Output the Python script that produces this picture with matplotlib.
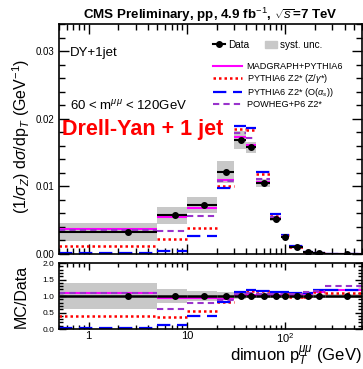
import numpy as np
import matplotlib.pyplot as plt
from matplotlib.ticker import MultipleLocator, FixedLocator, FuncFormatter, LogLocator, NullFormatter
from matplotlib.patches import Patch
from matplotlib.lines import Line2D

plt.rcParams['font.family'] = ['Liberation Sans', 'DejaVu Sans']
plt.rcParams['mathtext.fontset'] = 'custom'
plt.rcParams['mathtext.rm'] = 'Liberation Sans'
plt.rcParams['mathtext.it'] = 'Liberation Sans:italic'
plt.rcParams['mathtext.bf'] = 'Liberation Sans:bold'

# pT bins (GeV)
bin_lo = [0, 5, 10, 20, 30, 40, 50, 70, 90, 110, 150, 190, 250]
bin_hi = [5, 10, 20, 30, 40, 50, 70, 90, 110, 150, 190, 250, 600]
bin_c = [2.5, 7.5, 15, 25, 35, 45, 60, 80, 100, 130, 170, 220, 425]

# normalised cross section (GeV^-1)
data = [0.00331, 0.0057, 0.00728, 0.01208, 0.01684, 0.01575, 0.01045,
        0.0052, 0.00253, 0.0010, 0.00027, 0.00011, 0.00002]
stat = [0.00012, 0.00015, 0.00012, 0.00015, 0.00018, 0.00018, 0.00012,
        0.00008, 0.00005, 0.00003, 0.00002, 0.00001, 0.000005]
syst_rel = [0.40, 0.21, 0.16, 0.135, 0.08, 0.055, 0.055, 0.06, 0.06,
            0.06, 0.06, 0.06, 0.06]

madgraph = [0.00376, 0.00545, 0.00673, 0.0110, 0.01734, 0.0161, 0.0107,
            0.0053, 0.0026, 0.00103, 0.00029, 0.000125, 0.000023]
pythia_zg = [0.00119, 0.00218, 0.0039, 0.0100, 0.01853, 0.01828, 0.01189,
             0.00565, 0.00278, 0.0011, 0.00028, 0.00012, 0.000022]
pythia_as = [0.0001, 0.0005, 0.00267, 0.00976, 0.0189, 0.01868, 0.01208,
             0.0059, 0.00287, 0.00112, 0.00031, 0.00013, 0.000023]
powheg = [0.0036, 0.00346, 0.00565, 0.01074, 0.01793, 0.01709, 0.0111,
          0.00545, 0.0027, 0.00108, 0.0003, 0.00012, 0.000026]

# MC/Data
madgraph_r = [1.09, 0.95, 0.95, 0.90, 1.04, 1.03, 1.02, 1.02, 1.03, 1.04, 1.05, 1.13, 1.17]
pythia_zg_r = [0.38, 0.36, 0.55, 0.83, 1.10, 1.16, 1.14, 1.08, 1.07, 0.98, 0.97, 1.12, 1.09]
pythia_as_r = [0.04, 0.11, 0.38, 0.81, 1.12, 1.19, 1.15, 1.12, 1.11, 1.10, 1.09, 1.17, 1.17]
powheg_r = [1.09, 0.61, 0.78, 0.89, 1.07, 1.09, 1.06, 1.05, 1.06, 1.06, 1.12, 1.15, 1.29]

xmin, xmax = 0.5, 600
lo = np.maximum(bin_lo, xmin)
hi = np.array(bin_hi, dtype=float)
c = np.array(bin_c, dtype=float)
d = np.array(data)
srel = np.array(syst_rel)

styles = [
    ('MADGRAPH+PYTHIA6', madgraph, madgraph_r, dict(color='#ff00ff', ls='-', lw=1.5)),
    ('PYTHIA6 Z2* (Z/$\\gamma$*)', pythia_zg, pythia_zg_r, dict(color='#ff0000', ls=(0, (1, 1.2)), lw=1.8)),
    ('PYTHIA6 Z2* (O($\\alpha_s$))', pythia_as, pythia_as_r, dict(color='#0000ff', ls=(0, (6, 3)), lw=1.6)),
    ('POWHEG+P6 Z2*', powheg, powheg_r, dict(color='#9933cc', ls=(0, (3, 2)), lw=1.5)),
]

fig = plt.figure(figsize=(3.63, 3.69), dpi=100)
ax = fig.add_axes([0.1625, 0.3117, 0.8345, 0.6233])
axr = fig.add_axes([0.1625, 0.1084, 0.8345, 0.1786])

band = '#c8c8c8'
for i in range(len(d)):
    ax.fill_between([lo[i], hi[i]], d[i] * (1 - srel[i]), d[i] * (1 + srel[i]),
                    color=band, lw=0, zorder=1)
    axr.fill_between([lo[i], hi[i]], 1 - srel[i], 1 + srel[i], color=band, lw=0, zorder=1)

for name, vals, rat, st in styles:
    ax.hlines(vals, lo, hi, zorder=2, **st)
    axr.hlines(rat, lo, hi, zorder=2, **st)

ax.errorbar(c, d, xerr=[c - lo, hi - c], yerr=stat, fmt='o', color='k', ms=4,
            elinewidth=1.5, capsize=0, zorder=5)
axr.errorbar(c, np.ones_like(d), xerr=[c - lo, hi - c], fmt='o', color='k', ms=4,
             elinewidth=1.8, capsize=0, zorder=5)

for a in (ax, axr):
    a.set_xscale('log')
    a.set_xlim(xmin, xmax)
    a.xaxis.set_major_locator(FixedLocator([1, 10, 100]))
    a.xaxis.set_minor_locator(LogLocator(base=10, subs=np.arange(2, 10)))
    a.xaxis.set_minor_formatter(NullFormatter())
    a.tick_params(which='both', direction='in', top=True, right=True, width=1)
    for s in a.spines.values():
        s.set_linewidth(1.2)

ax.set_ylim(0, 0.034)
ax.yaxis.set_major_locator(MultipleLocator(0.01))
ax.yaxis.set_minor_locator(MultipleLocator(0.002))
ax.yaxis.set_major_formatter(FuncFormatter(lambda v, p: '%.2f' % v))
ax.tick_params(which='major', length=7, labelsize=7)
ax.tick_params(which='minor', length=4)
ax.tick_params(axis='x', labelbottom=False)

axr.set_ylim(0, 2)
axr.yaxis.set_major_locator(MultipleLocator(0.5))
axr.yaxis.set_minor_locator(MultipleLocator(0.1))
axr.yaxis.set_major_formatter(FuncFormatter(lambda v, p: '%.1f' % v))
axr.tick_params(which='major', length=5, labelsize=6)
axr.tick_params(which='minor', length=3)
axr.tick_params(axis='x', labelsize=8, pad=1.5)
axr.xaxis.set_major_formatter(FuncFormatter(
    lambda v, p: {1: '1', 10: '10', 100: '$10^2$'}.get(int(round(v)), '')))

fig.text(0.058, 0.84, '(1/$\\sigma_Z$) d$\\sigma$/dp$_T$ (GeV$^{-1}$)', fontsize=11.5,
         rotation=90, ha='center', va='top')
fig.text(0.058, 0.1084 + 0.1786 / 2, 'MC/Data', fontsize=11.5,
         rotation=90, ha='center', va='center')
fig.text(0.997, 0.002, 'dimuon p$_T^{\\mu\\mu}$ (GeV)', fontsize=12,
         ha='right', va='bottom')

ax.set_title('CMS Preliminary, pp, 4.9 fb$^{-1}$, $\\sqrt{s}$=7 TeV',
             fontsize=9.6, fontweight='bold', pad=3)

ax.text(0.035, 0.875, 'DY+1jet', transform=ax.transAxes, fontsize=9.5, va='center')
ax.text(0.035, 0.645, '60 < m$^{\\mu\\mu}$ < 120GeV', transform=ax.transAxes,
        fontsize=9.5, va='center')
ax.text(0.01, 0.54, 'Drell-Yan + 1 jet', transform=ax.transAxes, fontsize=15.5,
        fontweight='bold', color='red', va='center')

h_data = Line2D([], [], color='k', marker='o', ms=4, lw=1.5)
h_syst = Patch(color=band)
leg1 = ax.legend([h_data, h_syst], ['Data', 'syst. unc.'], ncol=2, loc='upper left',
                 bbox_to_anchor=(0.48, 0.97), frameon=False, fontsize=7.2,
                 handlelength=1.2, columnspacing=1.5, handletextpad=0.3)
ax.add_artist(leg1)
h_mc = [Line2D([], [], **st) for _, _, _, st in styles]
ax.legend(h_mc, [s[0] for s in styles], loc='upper left', bbox_to_anchor=(0.48, 0.87),
          frameon=False, fontsize=6.6, handlelength=3.2, handletextpad=0.5,
          labelspacing=0.1)

fig.savefig('out.png', dpi=100)
